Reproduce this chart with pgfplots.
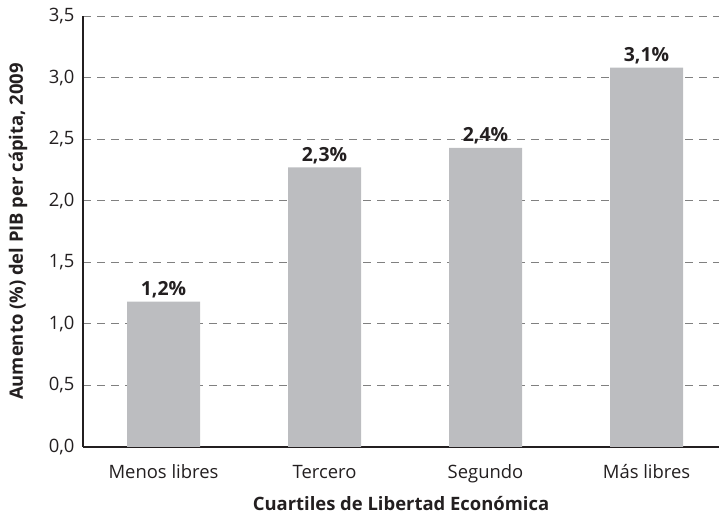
\documentclass[border=0pt]{standalone}
\usepackage{fontspec}
\setmainfont{Open Sans}
\usepackage{pgfplots}
\pgfplotsset{compat=1.18}
\definecolor{bargray}{HTML}{BCBDC0}
\definecolor{txt}{HTML}{231F20}
\pgfplotsset{layers/mylayers/.define layer set={axis background,axis grid,pre main,main,axis ticks,axis lines,axis tick labels,axis descriptions,axis foreground}{}}
\begin{document}
\begin{tikzpicture}
\begin{axis}[
  name=ax, set layers=mylayers,
  scale only axis, width=636bp, height=431bp,
  xmin=-0.5, xmax=3.45, ymin=0, ymax=3.5,
  axis x line*=bottom, axis y line*=left,
  axis line style={line width=1.8bp, txt},
  xtick={0,1,2,3},
  xticklabels={Menos libres,Tercero,Segundo,Más libres},
  ytick={0,0.5,1,1.5,2,2.5,3,3.5},
  major tick length=0pt,
  ymajorgrids,
  grid style={dash pattern=on 7.5bp off 6.5bp, black!50, line width=0.9bp},
  /pgf/number format/use comma,
  /pgf/number format/fixed,
  /pgf/number format/fixed zerofill,
  /pgf/number format/precision=1,
  /pgf/number format/assume math mode=true,
  tick label style={font=\fontsize{18.5}{22}\selectfont, text=txt},
  yticklabel style={xshift=-5bp},
  xticklabel style={anchor=base, yshift=-32bp},
  xlabel={Cuartiles de Libertad Económica},
  ylabel={Aumento (\%) del PIB per cápita, 2009},
  label style={font=\bfseries\fontsize{18.5}{22}\selectfont, text=txt},
  xlabel style={at={(axis description cs:0.5,-0.1462)}, anchor=base},
  ylabel style={at={(axis description cs:-0.1022,0.5)}, anchor=center},
  ybar, bar width=73bp,
  point meta=explicit symbolic,
  nodes near coords,
  every node near coord/.append style={font=\bfseries\fontsize{19.5}{23}\selectfont, text=txt, anchor=base, inner sep=0pt, yshift=6bp},
]
\addplot[fill=bargray, draw=none] coordinates {
  (0,1.18) [1,2\%]
  (1,2.27) [2,3\%]
  (2,2.43) [2,4\%]
  (3,3.08) [3,1\%]
};
\end{axis}
\path[use as bounding box] ([shift={(-83bp,-66bp)}]ax.south west) rectangle ([shift={(2bp,16bp)}]ax.north east);
\end{tikzpicture}
\end{document}
